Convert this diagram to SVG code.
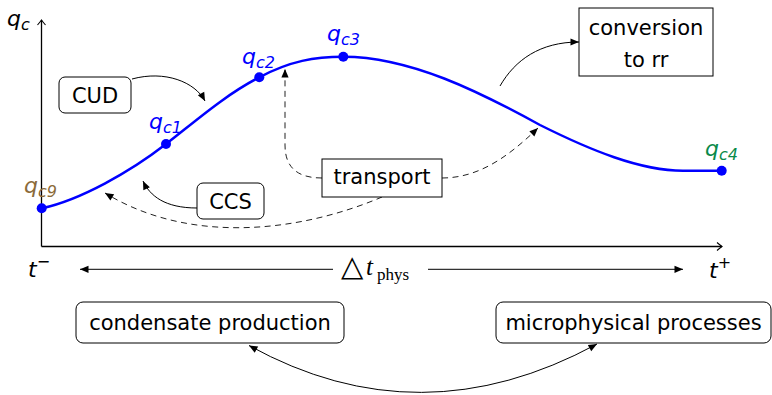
<svg xmlns="http://www.w3.org/2000/svg" width="772" height="395" viewBox="0 0 772 395">
  <style>
    .lbl { font-family: "DejaVu Sans", sans-serif; font-size: 21px; fill: #000; }
    .box { fill: #fff; stroke: #000; stroke-width: 1; }
    .q { font-family: "DejaVu Sans", sans-serif; font-style: oblique; font-size: 22px; }
    .sub { font-size: 16px; }
    .conn { fill: none; stroke: #000; stroke-width: 1; }
    .dash { fill: none; stroke: #222; stroke-width: 1; stroke-dasharray: 6 4.5; }
    .axis { fill: none; stroke: #000; stroke-width: 1.3; }
    .pt { fill: #0000ff; }
  </style>
  <defs>
    <marker id="tip" viewBox="-9 -5 10 10" refX="0" refY="0" markerWidth="10" markerHeight="10" markerUnits="userSpaceOnUse" orient="auto-start-reverse">
      <path d="M0,0 L-8.5,-3.6 L-8.5,3.6 z" fill="#000"/>
    </marker>
    <marker id="open" viewBox="-8 -6 10 12" refX="0" refY="0" markerWidth="10" markerHeight="12" markerUnits="userSpaceOnUse" orient="auto">
      <path d="M-5,-4 Q-1.5,-1 0,0 Q-1.5,1 -5,4" fill="none" stroke="#000" stroke-width="1.1"/>
    </marker>
  </defs>

  <rect width="772" height="395" fill="#fff"/>

  <!-- axes -->
  <g id="axes">
    <path class="axis" d="M41.5,246.5 L41.5,20" marker-end="url(#open)"/>
    <path class="axis" d="M41.5,246.5 L722,246.5" marker-end="url(#open)"/>
    <text class="q" x="7" y="26" fill="#000">q<tspan class="sub" dy="4">c</tspan></text>
  </g>

  <!-- q_c curve over the physics time step -->
  <g id="curve">
    <path d="M41.7,208.3 C80,200 130,172 166,144 C195,121.6 225,95 259.3,77.3 C290,61 315,56.7 343.3,56.7 C410,56.7 480,92 540,125 C590,150 640,170.7 683,170.7 L721.7,170.7" fill="none" stroke="#0000ff" stroke-width="2.5"/>
  </g>

  <g id="qc9">
    <circle class="pt" cx="41.7" cy="208.3" r="5"/>
    <text class="q" x="24" y="193" fill="#8b6b3a">q<tspan class="sub" dy="4">c9</tspan></text>
  </g>
  <g id="qc1">
    <circle class="pt" cx="166" cy="144" r="5"/>
    <text class="q" x="149" y="129" fill="#0000ff">q<tspan class="sub" dy="4">c1</tspan></text>
  </g>
  <g id="qc2">
    <circle class="pt" cx="259.3" cy="77.3" r="5"/>
    <text class="q" x="242" y="63.5" fill="#0000ff">q<tspan class="sub" dy="4">c2</tspan></text>
  </g>
  <g id="qc3">
    <circle class="pt" cx="343.3" cy="56.7" r="5"/>
    <text class="q" x="327" y="41" fill="#0000ff">q<tspan class="sub" dy="4">c3</tspan></text>
  </g>
  <g id="qc4">
    <circle class="pt" cx="721.7" cy="170.7" r="5"/>
    <text class="q" x="705" y="156" fill="#0a8a4a">q<tspan class="sub" dy="4">c4</tspan></text>
  </g>

  <!-- connectors -->
  <g id="connectors">
    <path class="conn" d="M132,79 C165,70 195,82 205,101" marker-end="url(#tip)"/>
    <path class="conn" d="M197,208 C165,208 150,196 143,181" marker-end="url(#tip)"/>
    <path class="conn" d="M500,86 C515,60 540,42 579,42" marker-end="url(#tip)"/>
    <path class="dash" d="M322,178 C298,178 285,168 285,145 L285,69" marker-end="url(#tip)"/>
    <path class="dash" d="M442,178 C480,178 510,155 538,128" marker-end="url(#tip)"/>
    <path class="dash" d="M382,197 C300,232 190,245 105,193" marker-end="url(#tip)"/>
    <path class="conn" d="M249,345.5 Q420,440 597,344" marker-start="url(#tip)" marker-end="url(#tip)"/>
  </g>

  <!-- physics time step -->
  <g id="timestep">
    <path d="M333,269.3 L80,269.3" fill="none" stroke="#333" stroke-width="1.2" marker-end="url(#tip)"/>
    <path d="M428,269.3 L683,269.3" fill="none" stroke="#333" stroke-width="1.2" marker-end="url(#tip)"/>
    <text x="341" y="276" font-family="DejaVu Sans, sans-serif" font-size="29">△</text>
    <text x="366" y="275" font-family="Liberation Serif, serif" font-size="25" font-style="italic">t</text>
    <text x="377" y="280" font-family="Liberation Serif, serif" font-size="17">phys</text>
    <text x="28" y="277" font-family="DejaVu Sans, sans-serif" font-style="oblique" font-size="22">t<tspan font-size="16" dy="-10">−</tspan></text>
    <text x="709" y="278" font-family="DejaVu Sans, sans-serif" font-style="oblique" font-size="22">t<tspan font-size="16" dy="-10">+</tspan></text>
  </g>

  <g id="CUD">
    <rect class="box" x="59" y="77" width="72" height="36" rx="6"/>
    <text class="lbl" x="95" y="103" text-anchor="middle" font-size="22">CUD</text>
  </g>
  <g id="CCS">
    <rect class="box" x="197" y="183" width="67" height="36" rx="6"/>
    <text class="lbl" x="230.5" y="209" text-anchor="middle" font-size="22">CCS</text>
  </g>
  <g id="transport">
    <rect class="box" x="322" y="159" width="120" height="38"/>
    <text class="lbl" x="382" y="184" text-anchor="middle">transport</text>
  </g>
  <g id="conversion">
    <rect class="box" x="579" y="8" width="134" height="68" stroke="#333"/>
    <text class="lbl" x="646" y="35" text-anchor="middle">conversion</text>
    <text class="lbl" x="646" y="67" text-anchor="middle">to rr</text>
  </g>
  <g id="condensate">
    <rect class="box" x="76" y="302" width="268" height="41" rx="7"/>
    <text class="lbl" x="210" y="330" text-anchor="middle">condensate production</text>
  </g>
  <g id="microphysics">
    <rect class="box" x="496" y="302" width="275" height="41" rx="7"/>
    <text class="lbl" x="633.5" y="330" text-anchor="middle">microphysical processes</text>
  </g>
</svg>
